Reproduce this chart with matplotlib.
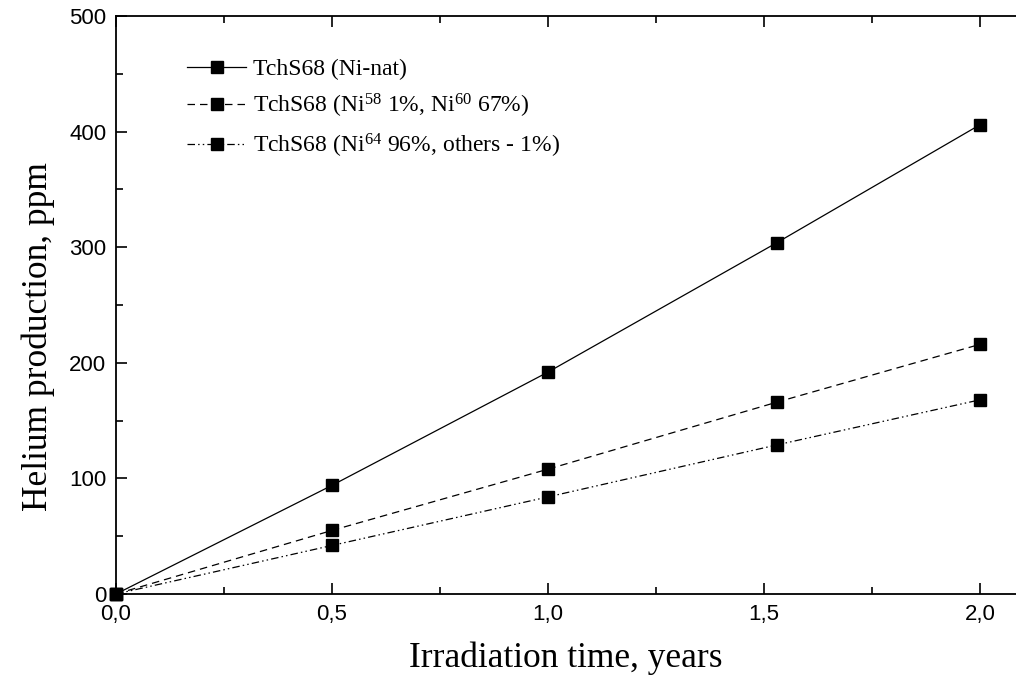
import numpy as np
import matplotlib
matplotlib.use("Agg")
import matplotlib.pyplot as plt
from matplotlib.ticker import MultipleLocator, FuncFormatter

# irradiation time (years) and helium production (ppm)
years = [0.0, 0.5, 1.0, 1.53, 2.0]
he_nat = [0, 94, 192, 304, 406]
he_58_60 = [0, 55, 108, 166, 216]
he_64 = [0, 42, 84, 129, 168]

labels = ["TchS68 (Ni-nat)",
          "TchS68 (Ni$^{58}$ 1%, Ni$^{60}$ 67%)",
          "TchS68 (Ni$^{64}$ 96%, others - 1%)"]

plt.rcParams['mathtext.fontset'] = 'custom'
plt.rcParams['mathtext.rm'] = 'Liberation Serif'
plt.rcParams['mathtext.it'] = 'Liberation Serif:italic'

fig = plt.figure(figsize=(10.16, 6.86), dpi=100)
ax = fig.add_axes([116/1016, 1 - 594/686, 900/1016, (594 - 16)/686])

kw = dict(color='black', marker='s', markersize=8.5, linewidth=0.9, clip_on=False, zorder=3)
ax.plot(years, he_nat, linestyle='-', label=labels[0], **kw)
ax.plot(years, he_58_60, linestyle=(0, (6, 4)), label=labels[1], **kw)
ax.plot(years, he_64, linestyle=(0, (6, 2.5, 1.2, 2.5, 1.2, 2.5)), label=labels[2], **kw)

ax.set_xlim(0, 2.083)
ax.set_ylim(0, 500)
ax.xaxis.set_major_locator(MultipleLocator(0.5))
ax.xaxis.set_minor_locator(MultipleLocator(0.25))
ax.yaxis.set_major_locator(MultipleLocator(100))
ax.yaxis.set_minor_locator(MultipleLocator(50))
ax.xaxis.set_major_formatter(FuncFormatter(lambda v, p: f"{v:.1f}".replace('.', ',')))

for s in ['left', 'bottom', 'top']:
    ax.spines[s].set_linewidth(1.3)
ax.spines['right'].set_visible(False)

ax.tick_params(which='both', direction='in', top=True, right=False, width=1.2,
               labelsize=16, labelfontfamily='Liberation Sans')
ax.tick_params(which='major', length=8, pad=7)
ax.tick_params(which='minor', length=5)

ax.set_xlabel("Irradiation time, years", family='Liberation Serif', fontsize=25.5, labelpad=12)
ax.set_ylabel("Helium production, ppm", family='Liberation Serif', fontsize=25.5)
ax.yaxis.set_label_coords(-0.068, 0.446)

ax.legend(loc='upper left', bbox_to_anchor=(0.0556, 0.963), frameon=False,
          prop={'family': 'Liberation Serif', 'size': 17},
          handlelength=2.5, handletextpad=0.3, labelspacing=0.5)

fig.savefig("out.png", dpi=100)
